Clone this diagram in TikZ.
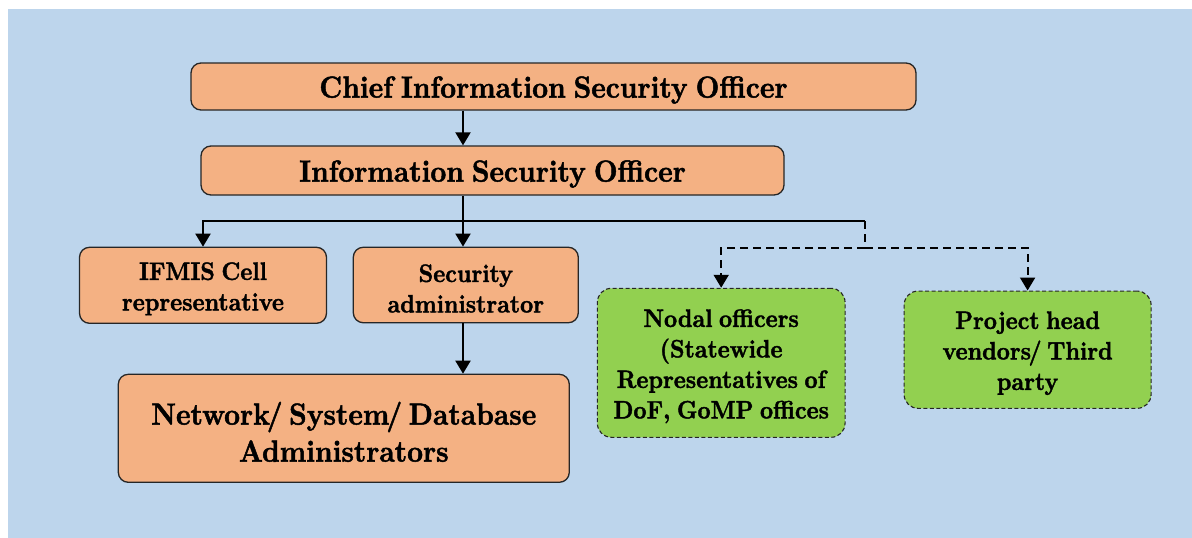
\documentclass[tikz,border=0pt]{standalone}
\usepackage{fontspec}
\setmainfont{lmroman10-regular.otf}[BoldFont=lmroman10-bold.otf, BoldFeatures={FakeStretch=0.905,FakeBold=1.5,WordSpace=0.75}]
\usetikzlibrary{arrows.meta}
\definecolor{bgblue}{HTML}{BDD5EC}
\definecolor{orangebox}{HTML}{F4B183}
\definecolor{greenbox}{HTML}{92D050}
\tikzset{
  obox/.style={draw=black!85, line width=1.3pt, fill=orangebox, rounded corners=10pt, inner sep=0pt},
  gbox/.style={draw=black!85, line width=1.1pt, fill=greenbox, rounded corners=14pt, inner sep=0pt, dash pattern=on 4pt off 2.5pt},
  lbl/.style={inner sep=0pt, align=center, yshift=-3.5pt},
  bigtext/.style={lbl, font=\bfseries\fontsize{30.5}{37}\selectfont},
  smalltext/.style={lbl, font=\bfseries\fontsize{25.2}{30.5}\selectfont},
  conn/.style={line width=2pt, black},
  arr/.style={conn, -{Triangle[length=13pt,width=15pt]}},
  dconn/.style={conn, dash pattern=on 8pt off 5pt},
  darr/.style={dconn, -{Triangle[length=13pt,width=15pt]}},
}
\begin{document}
\begin{tikzpicture}[x=1pt,y=-1pt]
\useasboundingbox (0,0) rectangle (1192,538);
\fill[bgblue] (8,9) rectangle (1192,538);

\node[obox, minimum width=725pt, minimum height=47pt,
  label={[bigtext]center:{Chief Information Security Officer}}] (ciso) at (553.5,86.5) {};
\node[obox, minimum width=583pt, minimum height=49pt,
  label={[bigtext]center:{Information Security Officer}}] (iso) at (492.5,170.5) {};
\node[obox, minimum width=247pt, minimum height=76pt,
  label={[smalltext]center:{IFMIS Cell\\representative}}] (ifmis) at (203,285.3) {};
\node[obox, minimum width=225pt, minimum height=75.5pt,
  label={[smalltext]center:{Security\\administrator}}] (sec) at (465.8,285) {};
\node[obox, minimum width=451pt, minimum height=108pt,
  label={[bigtext]center:{Network\kern-3pt/\kern-1.5pt\ System\kern-3pt/\kern-1.5pt\ Database\\Administrators}}] (net) at (343.8,428.3) {};
\node[gbox, minimum width=247.7pt, minimum height=149pt,
  label={[smalltext]center:{Nodal officers\\(Statewide\\Representatives of\\DoF, GoMP offices}}] (nodal) at (721.2,362.8) {};
\node[gbox, minimum width=247pt, minimum height=117.3pt,
  label={[smalltext]center:{Project head\\vendors\kern-2.5pt/\kern-1pt\ Third\\party}}] (proj) at (1027.6,349.7) {};

\coordinate (a) at (463,0);
\coordinate (j) at (463,221);
\coordinate (k) at (865,221);
\coordinate (k2) at (865,248);

\draw[arr] (ciso.south -| a) -- (iso.north -| a);
\draw[conn] (iso.south -| a) -- (j);
\draw[arr] (j) -- (ifmis.north |- j) -- (ifmis.north);
\draw[arr] (j) -- (sec.north -| a);
\draw[conn] (j) -- (k);
\draw[dconn] (k) -- (k2);
\draw[darr] (k2) -- (nodal.north |- k2) -- (nodal.north);
\draw[darr] (k2) -- (proj.north |- k2) -- (proj.north);
\draw[arr] (sec.south -| a) -- (net.north -| a);
\end{tikzpicture}
\end{document}
